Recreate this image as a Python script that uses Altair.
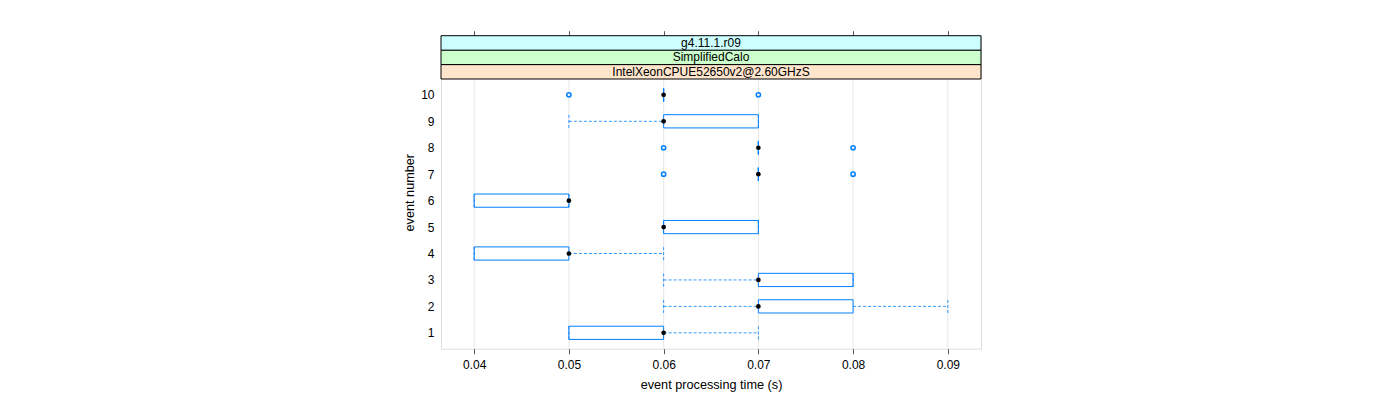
import altair as alt
import pandas as pd

# ---- data ----
events = [1, 2, 3, 4, 5, 6, 7, 8, 9, 10]
lower_whisker = [0.05, 0.06, 0.06, 0.04, 0.06, 0.04, 0.07, 0.07, 0.05, 0.06]
q1 = [0.05, 0.07, 0.07, 0.04, 0.06, 0.04, 0.07, 0.07, 0.06, 0.06]
median = [0.06, 0.07, 0.07, 0.05, 0.06, 0.05, 0.07, 0.07, 0.06, 0.06]
q3 = [0.06, 0.08, 0.08, 0.05, 0.07, 0.05, 0.07, 0.07, 0.07, 0.06]
upper_whisker = [0.07, 0.09, 0.08, 0.06, 0.07, 0.05, 0.07, 0.07, 0.07, 0.06]

outlier_event = [7, 7, 8, 8, 10, 10]
outlier_value = [0.06, 0.08, 0.06, 0.08, 0.05, 0.07]

x_ticks = [0.04, 0.05, 0.06, 0.07, 0.08, 0.09]
y_ticks = [1, 2, 3, 4, 5, 6, 7, 8, 9, 10]

strip_labels = ["IntelXeonCPUE52650v2@2.60GHzS", "SimplifiedCalo", "g4.11.1.r09"]
strip_colors = ["#ffe5cc", "#ccffcc", "#ccffff"]
strip_lo = [10.6, 11.146, 11.692]
strip_hi = [11.146, 11.692, 12.238]

X_DOMAIN = [0.0365, 0.0935]
Y_DOMAIN = [0.4, 12.238]
BOX_HALF = 0.25

FONT = "Liberation Sans"
BLUE = "#0080ff"

box_df = pd.DataFrame({
    "event": events, "lw": lower_whisker, "q1": q1, "med": median,
    "q3": q3, "uw": upper_whisker,
})
box_df["ylo"] = box_df["event"] - BOX_HALF
box_df["yhi"] = box_df["event"] + BOX_HALF

out_df = pd.DataFrame({"event": outlier_event, "value": outlier_value})
grid_df = pd.DataFrame({"g": x_ticks, "y0": [0.4] * len(x_ticks), "y1": [10.6] * len(x_ticks)})
strip_df = pd.DataFrame({"label": strip_labels, "color": strip_colors,
                         "lo": strip_lo, "hi": strip_hi,
                         "x0": [X_DOMAIN[0]] * 3, "x1": [X_DOMAIN[1]] * 3})
strip_df["mid"] = (strip_df["lo"] + strip_df["hi"]) / 2
strip_df["xm"] = (X_DOMAIN[0] + X_DOMAIN[1]) / 2

xs = alt.Scale(domain=X_DOMAIN, nice=False, zero=False)
ys = alt.Scale(domain=Y_DOMAIN, nice=False, zero=False)

bottom_axis = alt.Axis(orient="bottom", values=x_ticks, format=".2f", grid=False,
                       domain=False, tickSize=5, tickColor="#555", labelFont=FONT,
                       labelFontSize=12, labelColor="black", labelPadding=6,
                       title="event processing time (s)", titleFont=FONT,
                       titleFontSize=12.7, titleFontWeight="normal", titleColor="black",
                       titlePadding=8)
top_axis = alt.Axis(orient="top", values=x_ticks, labels=False, grid=False,
                    domain=False, tickSize=5, tickColor="#555", title=None)
left_axis = alt.Axis(orient="left", values=y_ticks, format="d", grid=False, domain=False,
                     ticks=False, labelFont=FONT, labelFontSize=12, labelColor="black",
                     labelPadding=7, title="event number", titleFont=FONT,
                     titleFontSize=12.7, titleFontWeight="normal", titleColor="black",
                     titlePadding=4)


def Y(field):
    return alt.Y(field, scale=ys, axis=left_axis)


grid = alt.Chart(grid_df).mark_rule(color="#e6e6e6", strokeWidth=1).encode(
    x=alt.X("g:Q", scale=xs, axis=top_axis),
    y=Y("y0:Q"),
    y2="y1:Q",
)

strips = alt.Chart(strip_df).mark_rect(stroke="black", strokeWidth=1).encode(
    x=alt.X("x0:Q", scale=xs, axis=None),
    x2="x1:Q",
    y=Y("lo:Q"),
    y2="hi:Q",
    fill=alt.Fill("color:N", scale=None),
)
strip_text = alt.Chart(strip_df).mark_text(font=FONT, fontSize=12, color="black").encode(
    x=alt.X("xm:Q", scale=xs, axis=None),
    y=Y("mid:Q"),
    text="label:N",
)

base = alt.Chart(box_df)
dash = [3, 2]
wl = base.mark_rule(color=BLUE, strokeDash=dash, opacity=0.8).encode(
    x=alt.X("lw:Q", scale=xs, axis=None), x2="q1:Q",
    y=Y("event:Q"))
wu = base.mark_rule(color=BLUE, strokeDash=dash, opacity=0.8).encode(
    x=alt.X("q3:Q", scale=xs, axis=None), x2="uw:Q",
    y=Y("event:Q"))
cl = base.mark_rule(color=BLUE, strokeDash=dash, opacity=0.8).encode(
    x=alt.X("lw:Q", scale=xs, axis=None),
    y=Y("ylo:Q"), y2="yhi:Q")
cu = base.mark_rule(color=BLUE, strokeDash=dash, opacity=0.8).encode(
    x=alt.X("uw:Q", scale=xs, axis=None),
    y=Y("ylo:Q"), y2="yhi:Q")
boxes = base.mark_rect(stroke=BLUE, strokeWidth=1, fillOpacity=0, fill="white").encode(
    x=alt.X("q1:Q", scale=xs, axis=bottom_axis), x2="q3:Q",
    y=Y("ylo:Q"), y2="yhi:Q")
meds = base.mark_point(filled=True, color="black", size=22, opacity=1).encode(
    x=alt.X("med:Q", scale=xs, axis=None),
    y=Y("event:Q"))
outs = alt.Chart(out_df).mark_point(filled=False, color=BLUE, size=18, strokeWidth=1.5,
                                     opacity=1).encode(
    x=alt.X("value:Q", scale=xs, axis=None),
    y=Y("event:Q"))

chart = alt.layer(grid, strips, strip_text, wl, wu, cl, cu, boxes, meds, outs).resolve_axis(
    x="independent"
).properties(
    width=540, height=313,
    padding={"left": 395, "top": 21.7, "right": 5, "bottom": 5},
).configure_view(stroke="#555", strokeWidth=1).configure(background="white")

chart.save("out.html", embed_options={"renderer": "svg", "actions": False})
